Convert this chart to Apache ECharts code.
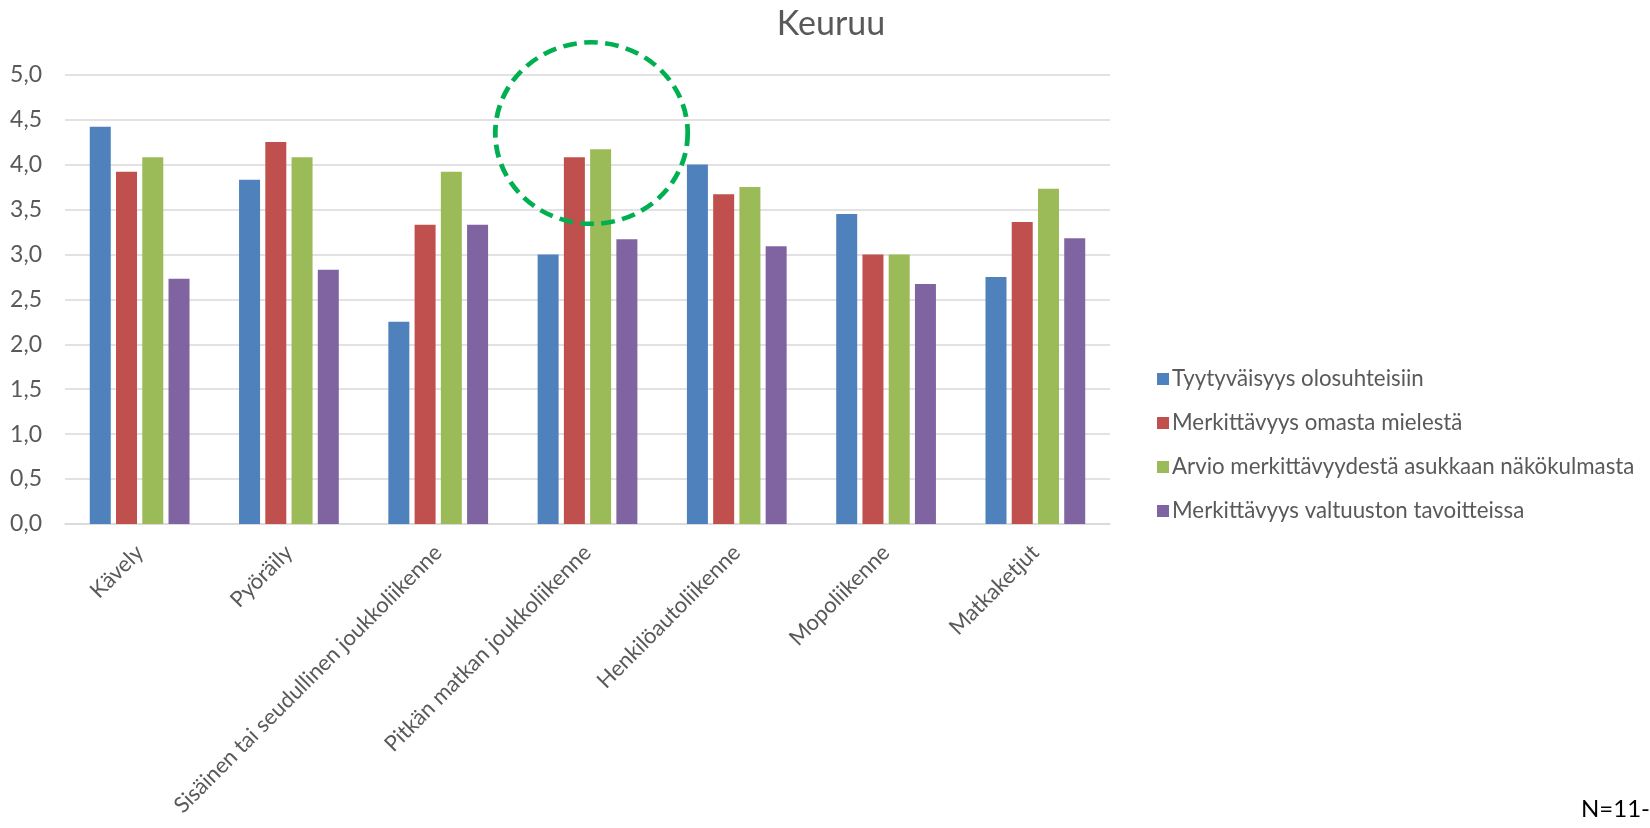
<!DOCTYPE html>
<html>
<head>
<meta charset="utf-8">
<script src="https://cdn.jsdelivr.net/npm/echarts@6/dist/echarts.min.js"></script>
<style>
  html, body { margin: 0; padding: 0; background: #fff; }
  #chart { width: 1650px; height: 828px; }
</style>
</head>
<body>
<div id="chart"></div>
<script>
// categories and series values
const categories = [
  "Kävely",
  "Pyöräily",
  "Sisäinen tai seudullinen joukkoliikenne",
  "Pitkän matkan joukkoliikenne",
  "Henkilöautoliikenne",
  "Mopoliikenne",
  "Matkaketjut",
];
const seriesNames = [
  "Tyytyväisyys olosuhteisiin",
  "Merkittävyys omasta mielestä",
  "Arvio merkittävyydestä asukkaan näkökulmasta",
  "Merkittävyys valtuuston tavoitteissa",
];
const tyytyvaisyys = [4.42, 3.83, 2.25, 3.0, 4.0, 3.45, 2.75];
const omastaMielesta = [3.92, 4.25, 3.33, 4.08, 3.67, 3.0, 3.36];
const asukkaanNakokulma = [4.08, 4.08, 3.92, 4.17, 3.75, 3.0, 3.73];
const valtuustonTavoitteet = [2.73, 2.83, 3.33, 3.17, 3.09, 2.67, 3.18];
const yTicks = [0, 0.5, 1, 1.5, 2, 2.5, 3, 3.5, 4, 4.5, 5];

const colors = ["#4f81bd", "#c0504d", "#9bbb59", "#8064a2"];
const font = "Lato, 'Open Sans', sans-serif";

const chart = echarts.init(document.getElementById("chart"));

const values = [tyytyvaisyys, omastaMielesta, asukkaanNakokulma, valtuustonTavoitteet];

chart.setOption({
  animation: false,
  color: colors,
  title: {
    text: "Keuruu",
    left: 826,
    top: 2,
    textAlign: "center",
    textStyle: {
      color: "#595959",
      fontSize: 34,
      fontWeight: "normal",
      fontFamily: font,
    },
  },
  legend: {
    orient: "vertical",
    left: 1152,
    top: 363,
    itemWidth: 12,
    itemHeight: 12,
    itemGap: 22,
    icon: "rect",
    data: seriesNames,
    textStyle: {
      color: "#595959",
      fontSize: 22.3,
      fontFamily: font,
      padding: [0, 0, 0, -2],
    },
  },
  grid: {
    left: 65,
    right: 540,
    top: 74.7,
    bottom: 304,
    containLabel: false,
  },
  xAxis: {
    type: "category",
    data: categories,
    axisTick: { show: false },
    axisLine: { lineStyle: { color: "#d9d9d9", width: 1.5 } },
    axisLabel: {
      interval: 0,
      rotate: 45,
      margin: 25,
      color: "#595959",
      fontSize: 22,
      fontFamily: font,
    },
  },
  yAxis: {
    type: "value",
    min: yTicks[0],
    max: yTicks[yTicks.length - 1],
    interval: 0.5,
    axisLine: { show: false },
    axisTick: { show: false },
    splitLine: { lineStyle: { color: "#d9d9d9", width: 1.5 } },
    axisLabel: {
      margin: 23,
      color: "#595959",
      fontSize: 23,
      fontFamily: font,
      formatter: (v) => v.toFixed(1).replace(".", ","),
    },
  },
  series: seriesNames.map((name, i) => ({
    name: name,
    type: "bar",
    data: values[i],
    barWidth: 21,
    barGap: "25%",
    itemStyle: { color: colors[i] },
  })),
});

// dashed highlight circle round the "Pitkän matkan" group, placed through the axes
const c = chart.convertToPixel({ xAxisIndex: 0, yAxisIndex: 0 }, [3, 4.35]);
const r = chart.convertToPixel({ yAxisIndex: 0 }, 3.34) - chart.convertToPixel({ yAxisIndex: 0 }, 4.35);
chart.setOption({
  graphic: [
    {
      type: "circle",
      x: c[0] + 4,
      y: c[1],
      scaleX: 1.06,
      shape: { cx: 0, cy: 0, r: r },
      style: {
        fill: "none",
        stroke: "#00b050",
        lineWidth: 4.5,
        lineDash: [13, 7],
      },
      z: 100,
    },
    {
      type: "text",
      right: 0,
      top: 797,
      style: {
        text: "N=11-",
        fill: "#000",
        fontSize: 24,
        fontFamily: font,
      },
    },
  ],
});
</script>
</body>
</html>
